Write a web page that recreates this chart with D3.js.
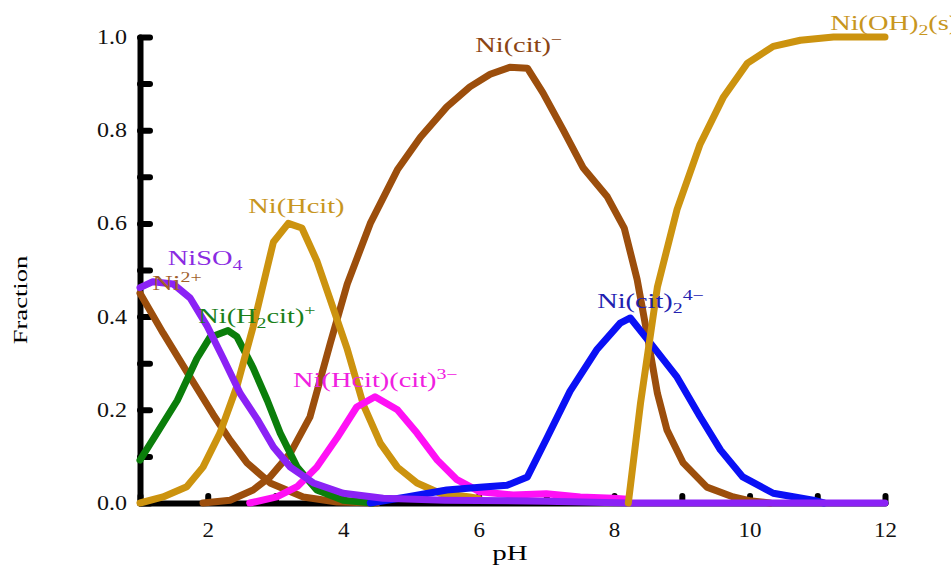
<!DOCTYPE html>
<html>
<head>
<meta charset="utf-8">
<script src="https://cdn.jsdelivr.net/npm/d3@7"></script>
<style>
  body { margin: 0; background: #fff; }
</style>
</head>
<body>
<div id="chart"></div>
<script>
// species curves, [pH, fraction]
const niFree = [[1, 0.45], [1.34, 0.365], [1.74, 0.27], [2.08, 0.19], [2.33, 0.135], [2.58, 0.086],
  [2.92, 0.043], [3.41, 0.013], [3.91, 0.002], [4.5, 0]];
const niSO4 = [[1, 0.462], [1.19, 0.475], [1.49, 0.47], [1.74, 0.44], [1.99, 0.38], [2.23, 0.31],
  [2.48, 0.235], [2.73, 0.18], [2.97, 0.12], [3.22, 0.077], [3.56, 0.043], [4.0, 0.021],
  [4.59, 0.01], [5.5, 0.006], [7, 0.004], [8.2, 0], [12, 0]];
const niH2cit = [[1, 0.092], [1.25, 0.15], [1.55, 0.22], [1.84, 0.31], [2.03, 0.355], [2.3, 0.37],
  [2.43, 0.357], [2.67, 0.29], [2.88, 0.22], [3.07, 0.15], [3.32, 0.077], [3.61, 0.028],
  [4.0, 0.006], [4.44, 0]];
const niHcit = [[1, 0], [1.34, 0.013], [1.69, 0.035], [1.93, 0.077], [2.18, 0.15], [2.43, 0.25],
  [2.67, 0.378], [2.88, 0.506], [2.97, 0.56], [3.19, 0.6], [3.39, 0.59], [3.61, 0.52],
  [3.81, 0.436], [4.06, 0.33], [4.3, 0.21], [4.55, 0.128], [4.8, 0.077], [5.09, 0.043],
  [5.43, 0.021], [5.87, 0.013], [6.0, 0.01]];
const niCit = [[1.93, 0], [2.33, 0.006], [2.67, 0.028], [2.92, 0.056], [3.22, 0.107], [3.51, 0.185],
  [3.81, 0.343], [4.06, 0.47], [4.4, 0.6], [4.8, 0.715], [5.14, 0.785], [5.53, 0.85],
  [5.87, 0.893], [6.17, 0.92], [6.46, 0.935], [6.72, 0.933], [6.95, 0.88], [7.25, 0.8],
  [7.54, 0.72], [7.9, 0.657], [8.15, 0.59], [8.34, 0.48], [8.49, 0.36], [8.64, 0.235],
  [8.78, 0.157], [9.02, 0.086], [9.37, 0.034], [9.76, 0.013], [10.0, 0.005], [10.3, 0]];
const niHcitCit = [[2.62, 0], [3.02, 0.013], [3.32, 0.035], [3.61, 0.077], [3.91, 0.14], [4.2, 0.206],
  [4.47, 0.228], [4.8, 0.2], [5.09, 0.15], [5.39, 0.092], [5.68, 0.05], [6.02, 0.024],
  [6.51, 0.017], [7.0, 0.02], [7.5, 0.013], [7.99, 0.01], [8.2, 0.008]];
const niCit2 = [[4.4, 0], [4.94, 0.013], [5.53, 0.028], [6.02, 0.034], [6.42, 0.038], [6.72, 0.056],
  [7.01, 0.14], [7.35, 0.24], [7.75, 0.33], [8.09, 0.386], [8.24, 0.397], [8.58, 0.335],
  [8.93, 0.27], [9.27, 0.185], [9.57, 0.114], [9.9, 0.056], [10.35, 0.021], [10.94, 0.006],
  [11.1, 0]];
const niOH2 = [[8.21, 0], [8.39, 0.214], [8.64, 0.464], [8.93, 0.63], [9.27, 0.77], [9.61, 0.87],
  [9.97, 0.944], [10.35, 0.98], [10.75, 0.993], [11.24, 1.0], [12, 1.0]];

const xTicks = [1, 2, 3, 4, 5, 6, 7, 8, 9, 10, 11, 12];
const yTicks = [0, 0.1, 0.2, 0.3, 0.4, 0.5, 0.6, 0.7, 0.8, 0.9, 1.0];

const serif = '"Times New Roman", "Liberation Serif", Tinos, "DejaVu Serif", serif';

const width = 951, height = 569;
const svg = d3.select('#chart').append('svg')
  .attr('width', width)
  .attr('height', height)
  .style('display', 'block')
  .attr('font-family', serif);

const x = d3.scaleLinear().domain([1, 12]).range([140, 885]);
const y = d3.scaleLinear().domain([0, 1]).range([503, 37]);

// axes
const yAxis = svg.append('g')
  .attr('transform', `translate(${x(1)},0)`)
  .call(d3.axisLeft(y).tickValues(yTicks).tickSize(-10).tickSizeOuter(0).tickPadding(13)
    .tickFormat(d => Math.round(d * 10) % 2 === 0 ? d3.format('.1f')(d) : ''));

const xAxis = svg.append('g')
  .attr('transform', `translate(0,${y(0)})`)
  .call(d3.axisBottom(x).tickValues(xTicks).tickSize(-7).tickSizeOuter(0).tickPadding(20)
    .tickFormat(d => d % 2 === 0 ? d : ''));

[yAxis, xAxis].forEach(g => {
  g.attr('font-family', serif);
  g.select('.domain').attr('stroke', '#000').attr('stroke-width', 6).attr('stroke-linecap', 'round');
  g.selectAll('.tick line').attr('stroke', '#000').attr('stroke-width', 6).attr('stroke-linecap', 'round');
  g.selectAll('.tick text').attr('font-size', 20).attr('fill', '#111');
});
// widen tick labels like the source
yAxis.selectAll('.tick text').attr('x', 0).attr('transform', 'translate(-13,0) scale(1.2,1)');
xAxis.selectAll('.tick text').attr('transform', 'scale(1.15,1)');

svg.append('text')
  .attr('transform', 'translate(27,300) rotate(-90) scale(1.4,1)')
  .attr('text-anchor', 'middle')
  .attr('font-size', 19)
  .text('Fraction');

svg.append('text')
  .attr('transform', 'translate(510,560) scale(1.45,1)')
  .attr('text-anchor', 'middle')
  .attr('font-size', 20)
  .text('pH');

// curves
const line = d3.line()
  .x(d => x(d[0]))
  .y(d => y(d[1]));

const curves = [
  [niFree, '#9C4E0C'],
  [niCit, '#9C4E0C'],
  [niH2cit, '#0B7E0B'],
  [niHcit, '#CC930F'],
  [niHcitCit, '#FF10F5'],
  [niCit2, '#0A10F5'],
  [niSO4, '#8B22F5'],
  [niOH2, '#CC930F']
];

svg.append('g').selectAll('path')
  .data(curves)
  .enter()
  .append('path')
  .attr('d', d => line(d[0]))
  .attr('fill', 'none')
  .attr('stroke', d => d[1])
  .attr('stroke-width', 7)
  .attr('stroke-linejoin', 'round')
  .attr('stroke-linecap', 'round');

// labels: anchor in data units, parts with sub/superscripts
const labels = [
  [11.19, 1.015, '#C8961E', [['Ni(OH)'], ['2', 'sub'], ['(s)']]],
  [5.95, 0.968, '#8B4513', [['Ni(cit)'], ['\u2212', 'sup']]],
  [2.6, 0.622, '#C8961E', [['Ni(Hcit)']]],
  [1.41, 0.511, '#8A2BE2', [['NiSO'], ['4', 'sub']]],
  [1.18, 0.457, '#A0602A', [['Ni'], ['2+', 'sup']]],
  [1.86, 0.386, '#1A801A', [['Ni(H'], ['2', 'sub'], ['cit)'], ['+', 'sup']]],
  [3.26, 0.249, '#F020E0', [['Ni(Hcit)(cit)'], ['3\u2212', 'sup']]],
  [7.75, 0.418, '#2222B0', [['Ni(cit)'], ['2', 'sub'], ['4\u2212', 'sup']]]
];

labels.forEach(([px, py, color, parts]) => {
  const t = svg.append('text')
    .attr('transform', `translate(${x(px)},${y(py)}) scale(1.42,1)`)
    .attr('fill', color)
    .attr('font-size', 20);
  let prev = 0;
  parts.forEach(([s, kind]) => {
    const off = kind === 'sub' ? 5 : kind === 'sup' ? -8 : 0;
    t.append('tspan')
      .attr('dy', off - prev)
      .attr('font-size', kind ? 14 : 20)
      .text(s);
    prev = off;
  });
});
</script>
</body>
</html>
